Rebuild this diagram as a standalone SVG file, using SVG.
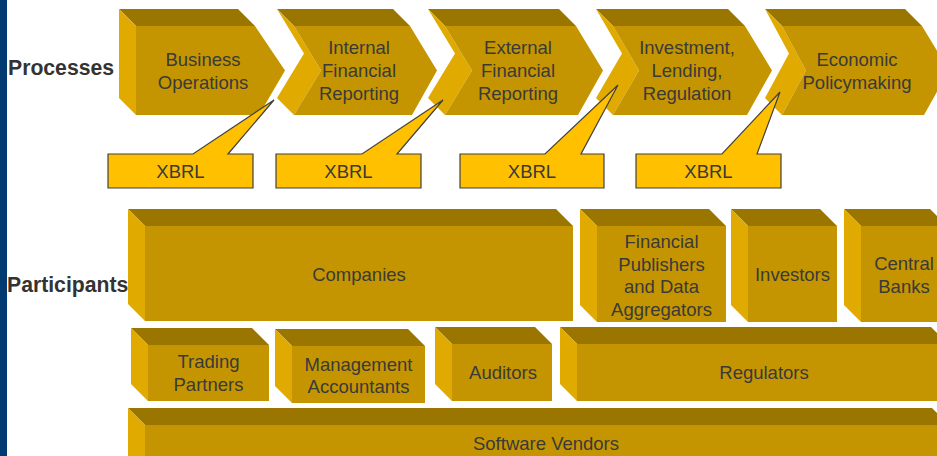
<svg xmlns="http://www.w3.org/2000/svg" width="937" height="456" viewBox="0 0 937 456">
<style>
.top{fill:#9A7600}
.side{fill:#E0AA00}
.front{fill:#C49500}
.t{font-family:"Liberation Sans",Arial,sans-serif;font-size:18.5px;fill:#3a3a3a;text-anchor:middle}
.h{font-family:"Liberation Sans",Arial,sans-serif;font-size:21.2px;font-weight:bold;fill:#333333}
.call{fill:#FFC000;stroke:#404040;stroke-width:1.2;stroke-linejoin:miter}
</style>
<rect x="0" y="0" width="937" height="456" fill="#ffffff"/>
<rect x="0" y="0" width="7" height="456" fill="#003A70"/>
<text class="h" x="8" y="75">Processes</text>
<text class="h" x="7" y="292">Participants</text>

<g id="chev1">
<polygon class="top" points="119,9 238,9 255,26 136,26"/>
<polygon class="side" points="119,9 136,26 136,115 119,98"/>
<polygon class="front" points="136,26 255,26 285,70.5 259,115 136,115"/>
<text class="t" x="203" y="66">Business</text>
<text class="t" x="203" y="89">Operations</text>
</g>
<g id="chev2">
<polygon class="top" points="277,9 393,9 410,26 294,26"/>
<polygon class="side" points="277,9 304,53.5 277,98 294,115 321,70.5 294,26"/>
<polygon class="front" points="294,26 410,26 437,70.5 412,115 294,115 321,70.5"/>
<text class="t" x="359" y="54">Internal</text>
<text class="t" x="359" y="77">Financial</text>
<text class="t" x="359" y="100">Reporting</text>
</g>
<g id="chev3">
<polygon class="top" points="428,9 559,9 576,26 445,26"/>
<polygon class="side" points="428,9 455,53.5 428,98 445,115 472,70.5 445,26"/>
<polygon class="front" points="445,26 576,26 603,70.5 578,115 445,115 472,70.5"/>
<text class="t" x="518" y="54">External</text>
<text class="t" x="518" y="77">Financial</text>
<text class="t" x="518" y="100">Reporting</text>
</g>
<g id="chev4">
<polygon class="top" points="596,9 728,9 745,26 613,26"/>
<polygon class="side" points="596,9 622,53.5 596,98 613,115 639,70.5 613,26"/>
<polygon class="front" points="613,26 745,26 772,70.5 747,115 613,115 639,70.5"/>
<text class="t" x="687" y="54">Investment,</text>
<text class="t" x="687" y="77">Lending,</text>
<text class="t" x="687" y="100">Regulation</text>
</g>
<g id="chev5">
<polygon class="top" points="765,9 905,9 922,26 782,26"/>
<polygon class="side" points="765,9 789,53.5 765,98 782,115 806,70.5 782,26"/>
<polygon class="front" points="782,26 922,26 949,70.5 924,115 782,115 806,70.5"/>
<text class="t" x="857" y="66">Economic</text>
<text class="t" x="857" y="89">Policymaking</text>
</g>

<g id="xbrl1">
<polygon class="call" points="108,154 193,154 274,100 228,154 253,154 253,188 108,188"/>
<text class="t" x="180.5" y="178">XBRL</text>
</g>
<g id="xbrl2">
<polygon class="call" points="276,154 362,154 443,100 397,154 421,154 421,188 276,188"/>
<text class="t" x="348.5" y="178">XBRL</text>
</g>
<g id="xbrl3">
<polygon class="call" points="460,154 545,154 618,85 581,154 604,154 604,188 460,188"/>
<text class="t" x="532" y="178">XBRL</text>
</g>
<g id="xbrl4">
<polygon class="call" points="636,154 722,154 780,92 757,154 781,154 781,188 636,188"/>
<text class="t" x="708.5" y="178">XBRL</text>
</g>

<g id="companies">
<polygon class="top" points="128,209 556,209 573,226 145,226"/>
<polygon class="side" points="128,209 145,226 145,321 128,304"/>
<rect class="front" x="145" y="226" width="428" height="95"/>
<text class="t" x="359" y="281">Companies</text>
</g>
<g id="publishers">
<polygon class="top" points="580,209 709,209 726,226 597,226"/>
<polygon class="side" points="580,209 597,226 597,322 580,305"/>
<rect class="front" x="597" y="226" width="129" height="96"/>
<text class="t" x="661.5" y="248">Financial</text>
<text class="t" x="661.5" y="271">Publishers</text>
<text class="t" x="661.5" y="293">and Data</text>
<text class="t" x="661.5" y="316">Aggregators</text>
</g>
<g id="investors">
<polygon class="top" points="731,209 820,209 837,226 748,226"/>
<polygon class="side" points="731,209 748,226 748,322 731,305"/>
<rect class="front" x="748" y="226" width="89" height="96"/>
<text class="t" x="792.5" y="281">Investors</text>
</g>
<g id="centralbanks">
<polygon class="top" points="844,209 930,209 947,226 861,226"/>
<polygon class="side" points="844,209 861,226 861,322 844,305"/>
<rect class="front" x="861" y="226" width="86" height="96"/>
<text class="t" x="904" y="270">Central</text>
<text class="t" x="904" y="293">Banks</text>
</g>
<g id="trading">
<polygon class="top" points="131,328 252,328 269,345 148,345"/>
<polygon class="side" points="131,328 148,345 148,401 131,384"/>
<rect class="front" x="148" y="345" width="121" height="56"/>
<text class="t" x="208.5" y="368">Trading</text>
<text class="t" x="208.5" y="391">Partners</text>
</g>
<g id="management">
<polygon class="top" points="275,329 408,329 425,346 292,346"/>
<polygon class="side" points="275,329 292,346 292,403 275,386"/>
<rect class="front" x="292" y="346" width="133" height="57"/>
<text class="t" x="358.5" y="371">Management</text>
<text class="t" x="358.5" y="393">Accountants</text>
</g>
<g id="auditors">
<polygon class="top" points="435,327 535,327 552,344 452,344"/>
<polygon class="side" points="435,327 452,344 452,401 435,384"/>
<rect class="front" x="452" y="344" width="100" height="57"/>
<text class="t" x="503" y="379">Auditors</text>
</g>
<g id="regulators">
<polygon class="top" points="560,327 931,327 948,344 577,344"/>
<polygon class="side" points="560,327 577,344 577,401 560,384"/>
<rect class="front" x="577" y="344" width="371" height="57"/>
<text class="t" x="764" y="379">Regulators</text>
</g>
<g id="software">
<polygon class="top" points="128,408 932,408 949,425 145,425"/>
<polygon class="side" points="128,408 145,425 145,475 128,458"/>
<rect class="front" x="145" y="425" width="804" height="50"/>
<text class="t" x="546" y="450">Software Vendors</text>
</g>
</svg>
